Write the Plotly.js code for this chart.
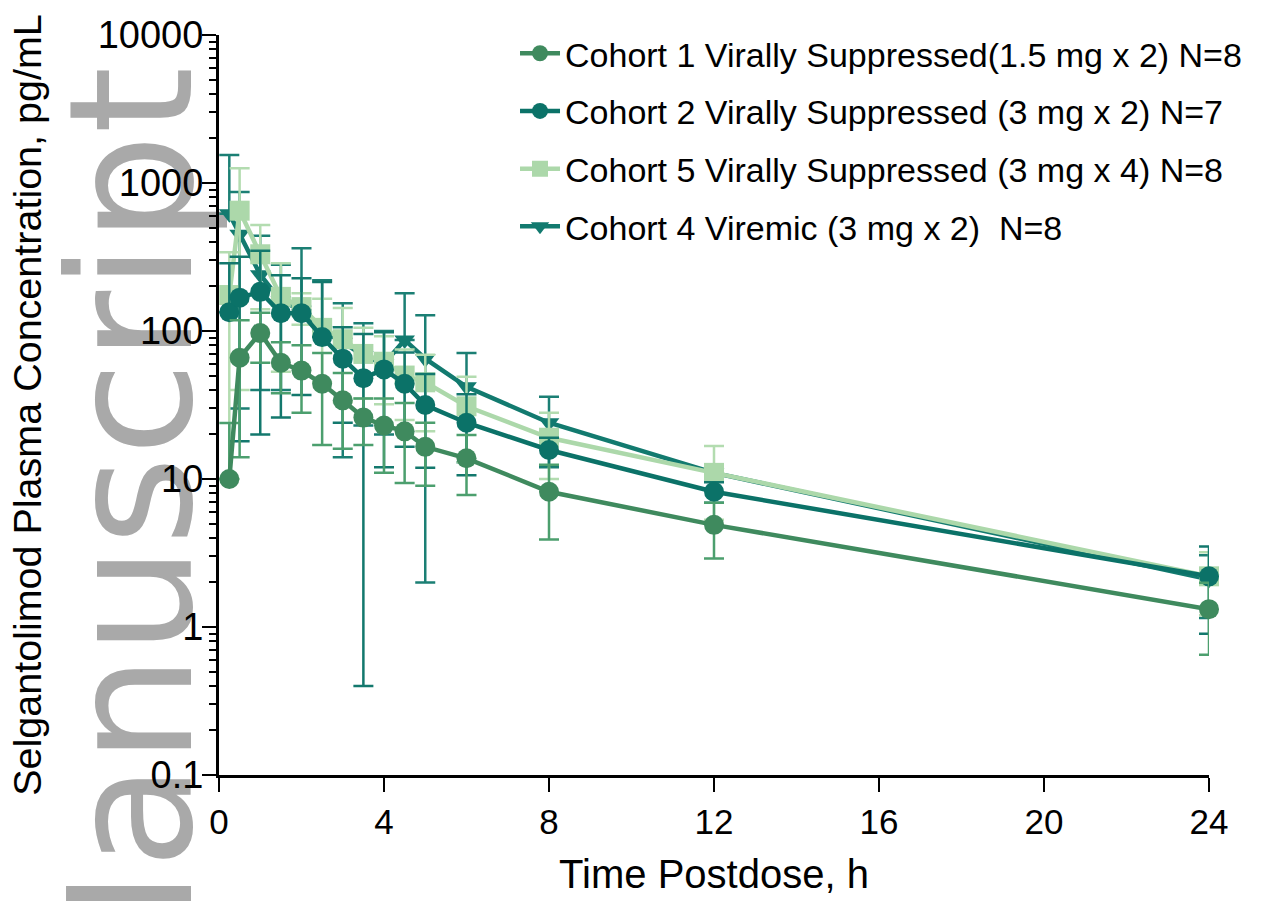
<!DOCTYPE html>
<html>
<head>
<meta charset="utf-8">
<script src="https://cdn.plot.ly/plotly-3.0.1.min.js"></script>
<style>html,body{margin:0;padding:0;background:#fff;}#chart{width:1284px;height:901px;}</style>
</head>
<body>
<div id="chart"></div>
<script>
// Time points (h)
const timeH = [0.25, 0.5, 1, 1.5, 2, 2.5, 3, 3.5, 4, 4.5, 5, 6, 8, 12, 24];

// Mean concentrations (pg/mL) and SD
const cohort1Mean = [10, 66, 97, 61, 54, 44, 34, 26, 23, 21, 16.5, 13.8, 8.2, 4.9, 1.32];
const cohort1Sd   = [13.9, 52, 36, 23, 26, 27, 18, 9, 12, 11.6, 7.5, 6, 4.3, 2, 0.67];

const cohort2Mean = [134, 168, 184, 132, 132, 91, 65, 48, 55, 44, 31.6, 24, 15.7, 8.2, 2.2];
const cohort2Sd   = [153, 150, 164, 106, 95, 123, 41, 47.6, 43, 27.5, 19.7, 13.4, 3.3, 1.3, 1.3];

const cohort5Mean = [175, 650, 330, 170, 145, 105, 88, 70, 62, 50, 45, 31, 19, 11, 2.2];
const cohort5Sd   = [165, 610, 190, 117, 35, 60, 55, 35, 30, 25, 24, 18, 9, 5.7, 1.0];

const cohort4Mean = [620, 450, 240, 160, 138, 100, 84, 68, 60, 87, 65, 42, 24, 11, 2.1];
const cohort4Sd   = [926, 420, 200, 120, 225, 120, 70, 45, 40, 93, 63, 29, 12, 1.2, 0.95];

const seriesNames = [
  'Cohort 1 Virally Suppressed(1.5 mg x 2) N=8',
  'Cohort 2 Virally Suppressed (3 mg x 2) N=7',
  'Cohort 5 Virally Suppressed (3 mg x 4) N=8',
  'Cohort 4 Viremic (3 mg x 2)  N=8'
];

const yTickVals = [0.1, 1, 10, 100, 1000, 10000];
const yTickText = ['0.1', '1', '10', '100', '1000', '10000'];
const xTickVals = [0, 4, 8, 12, 16, 20, 24];

// lower whisker only drawn where it stays positive (log axis)
function lowerSd(mean, sd) { return mean.map((m, i) => (m - sd[i] > 0 ? sd[i] : 0)); }

function makeTrace(name, mean, sd, color, barColor, symbol, size, rank) {
  return {
    type: 'scatter', mode: 'lines+markers', name: name, legendrank: rank,
    legendgroup: 'g' + rank,
    x: timeH, y: mean,
    line: {color: color, width: 4.5},
    marker: {color: color, symbol: symbol, size: size},
    error_y: {type: 'data', symmetric: false, array: sd, arrayminus: lowerSd(mean, sd),
              color: barColor, thickness: 2.5, width: 10},
    cliponaxis: false
  };
}

const traces = [
  makeTrace(seriesNames[3], cohort4Mean, cohort4Sd, '#127a6f', '#1b7f74', 'triangle-down', 18, 4),
  makeTrace(seriesNames[2], cohort5Mean, cohort5Sd, '#acd8aa', '#b3dcb0', 'square', 20, 3),
  makeTrace(seriesNames[1], cohort2Mean, cohort2Sd, '#0b7268', '#13786d', 'circle', 20, 2),
  makeTrace(seriesNames[0], cohort1Mean, cohort1Sd, '#3f8a5e', '#4c9f6e', 'circle', 20, 1)
];

const FONT = 'Liberation Sans, Arial, Helvetica, sans-serif';

const layout = {
  width: 1284, height: 901, autosize: false,
  margin: {l: 219, r: 75, t: 35, b: 126},
  paper_bgcolor: '#ffffff', plot_bgcolor: '#ffffff',
  font: {family: FONT, color: '#000000'},
  showlegend: true,
  legend: {
    x: 0.299, y: 1.014, xanchor: 'left', yanchor: 'top',
    font: {family: FONT, size: 34, color: '#000'},
    bgcolor: 'rgba(0,0,0,0)', traceorder: 'grouped', tracegroupgap: 10.5,
    itemwidth: 40
  },
  xaxis: {
    range: [0, 24], tickvals: xTickVals, ticktext: xTickVals.map(String),
    showline: true, linecolor: '#000', linewidth: 3,
    ticks: 'outside', ticklen: 14, tickwidth: 2.5, tickcolor: '#000',
    showgrid: false, zeroline: false,
    tickfont: {family: FONT, size: 35, color: '#000'},
    title: {text: 'Time Postdose, h', font: {family: FONT, size: 40, color: '#000'}, standoff: 20}
  },
  yaxis: {
    type: 'log', range: [-1, 4], tickvals: yTickVals, ticktext: yTickText,
    showline: true, linecolor: '#000', linewidth: 3,
    ticks: 'outside', ticklen: 14, tickwidth: 2.5, tickcolor: '#000',
    ticklabelstandoff: -9,
    minor: {dtick: 'D1', ticks: 'outside', ticklen: 7, tickwidth: 2, tickcolor: '#000', showgrid: false},
    showgrid: false, zeroline: false,
    tickfont: {family: FONT, size: 38, color: '#000'},
    title: {text: 'Selgantolimod Plasma Concentration, pg/mL', font: {family: FONT, size: 39.5, color: '#000'}, standoff: 44}
  },
  shapes: [{
    type: 'rect', xref: 'paper', yref: 'paper', layer: 'below',
    x0: -0.195, x1: -0.005, y0: -0.232, y1: 0.862,
    line: {width: 0}, fillcolor: 'rgba(0,0,0,0)',
    label: {text: 'Manuscript', textangle: -90, textposition: 'middle center',
            font: {family: 'DejaVu Sans, sans-serif', size: 172, color: '#a9a9a9'}}
  }]
};

Plotly.newPlot('chart', traces, layout, {displayModeBar: false, staticPlot: true});
</script>
</body>
</html>
